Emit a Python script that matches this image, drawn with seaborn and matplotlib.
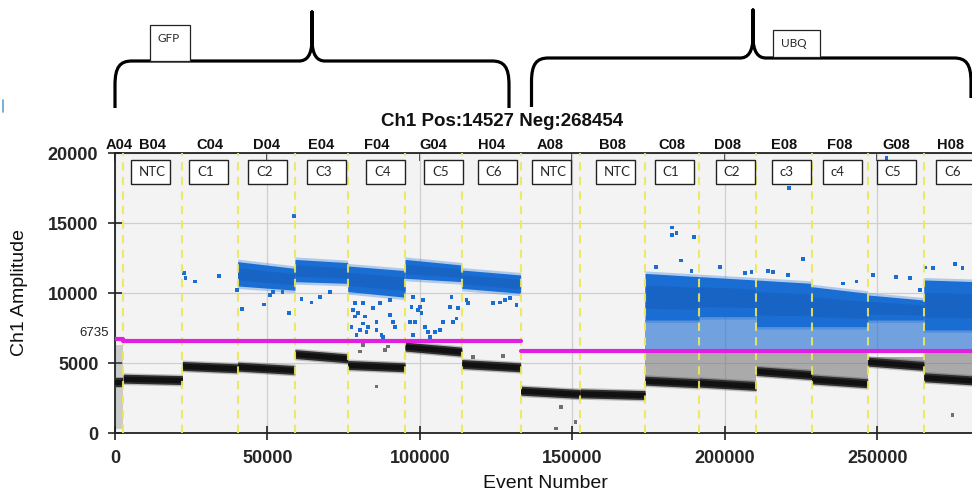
import numpy as np
import pandas as pd
import matplotlib.pyplot as plt
from matplotlib.patches import Rectangle, PathPatch
from matplotlib.path import Path
from matplotlib.transforms import blended_transform_factory
import seaborn as sns

nan = np.nan

# wells along the event axis
wells = ["A04", "B04", "C04", "D04", "E04", "F04", "G04", "H04",
         "A08", "B08", "C08", "D08", "E08", "F08", "G08", "H08"]
well_start = [0, 2700, 22100, 40200, 59000, 76300, 95100, 113700,
              133000, 152500, 173800, 191500, 210200, 228400, 246800, 265200]
well_end = [2700, 22100, 40200, 59000, 76300, 95100, 113700, 133000,
            152500, 173800, 191500, 210200, 228400, 246800, 265200, 282400]

# negative droplet band, amplitude at the left / right edge of each well
neg_left = [3600, 3880, 4790, 4740, 5640, 4860, 6170, 4930,
            3020, 2830, 3740, 3600, 4430, 3830, 5100, 3980]
neg_right = [3600, 3780, 4620, 4500, 5330, 4690, 5810, 4690,
             2790, 2710, 3550, 3360, 4140, 3550, 4790, 3740]

# dense positive cloud
pos_top_left = [nan, nan, nan, 12240, 12400, 11930, 12400, 11640,
                nan, nan, 11400, 11170, 10930, 10450, 9860, 10930]
pos_top_right = [nan, nan, nan, 11760, 12170, 11600, 12000, 11290,
                 nan, nan, 11170, 10930, 10690, 9980, 9500, 10810]
pos_bot_left = [nan, nan, nan, 10500, 10810, 10100, 11050, 10330,
                nan, nan, 8070, 8310, 7600, 7600, 8070, 7360]
pos_bot_right = [nan, nan, nan, 10200, 10690, 9700, 10810, 9980,
                 nan, nan, 8070, 8310, 7600, 7600, 8070, 7360]

# rain between the clusters
rain_blue_low = [nan, nan, nan, nan, nan, nan, nan, nan,
                 nan, nan, 5950, 5950, 5950, 5950, 5950, 5950]
rain_gray_low = [300, nan, nan, nan, nan, nan, nan, nan,
                 nan, nan, 3700, 3500, 4300, 3700, 4950, 3850]
rain_gray_top = [6300, nan, nan, nan, nan, nan, nan, nan,
                 nan, nan, 5700, 5700, 5700, 5700, 5450, 5700]

# single positive droplets outside the clusters
pos_event = [22732, 23169, 26230, 34098,
             40109, 41749, 48962, 50820, 51913, 54973, 57158,
             58689, 61202, 64481, 67213, 70492,
             77596, 78142, 78689, 78689, 79235, 79781, 80328, 81421, 81421, 81967,
             82514, 83060, 84699, 85792, 85792, 86885, 87432, 87978, 90164, 90164,
             91257, 91803,
             96721, 97268, 97814, 97814, 98361, 99454, 100000, 100546, 101093, 101639,
             102732, 103279, 104918, 106557, 107650, 109836, 110383, 110929, 112022, 112568,
             115301, 115847, 124044, 126230, 127869, 129508, 131694,
             182732, 184126, 182732, 189945, 185574, 177377, 189071, 198361, 206557,
             208743, 214208, 215847, 221093, 220765, 225683, 238798, 243169, 248634,
             253005, 256066, 260656, 263934, 265792, 268306, 275410, 277923]
pos_amp = [11405, 11048, 10810, 11214,
           10214, 8857, 9190, 9857, 10095, 10095, 8548,
           15500, 9548, 9310, 9738, 10095,
           7595, 8786, 9262, 8310, 7000, 8548, 7357, 9262, 7833, 8310,
           7238, 7595, 8905, 7952, 7357, 9262, 7000, 6881, 9500, 8429,
           7952, 7595,
           7952, 9024, 9738, 7000, 7952, 8786, 9024, 8548, 9500, 7595,
           7238, 6881, 7238, 7357, 7952, 9024, 9738, 7952, 8190, 8905,
           9500, 9262, 9262, 9333, 9500, 9619, 9143,
           14690, 14262, 14143, 14000, 12310, 11881, 11571, 11881, 11452,
           11524, 11595, 11524, 17524, 11286, 12405, 10690, 10810, 11286,
           19619, 11119, 11048, 10214, 11810, 11762, 12048, 11762]
# single negative droplets outside the bands
neg_event = [85792, 80328, 81421, 88525, 89617, 117486, 127322,
             146230, 144590, 151038, 274645]
neg_amp = [3310, 5810, 6286, 5929, 6167, 5452, 5500,
           1881, 310, 786, 1286]

# thresholds
thr_start = [0, 2700, 133000]
thr_end = [2700, 133000, 282400]
thr_value = [6735, 6600, 5860]

# sample name boxes
sample_names = ["NTC", "C1", "C2", "C3", "C4", "C5", "C6",
                "NTC", "NTC", "C1", "C2", "c3", "c4", "C5", "C6"]
sample_left = [5250, 24300, 43600, 63000, 82300, 101300, 119000,
               136700, 157700, 177000, 197000, 215400, 232100, 249800, 269200]

BLUE = "#1a6dd2"
BLUE_DARK = "#1764c4"
GRAY = "#6f6f6f"
BLACK = "#111111"
MAGENTA = "#e21ee0"
YELLOW = "#eee75a"

sns.set_style("ticks")
plt.rcParams["font.family"] = ["Liberation Sans", "DejaVu Sans"]

W, H = 972, 495
fig = plt.figure(figsize=(W / 100, H / 100), dpi=100)
fig.patch.set_facecolor("white")

# overlay in pixel units for the group braces
over = fig.add_axes([0, 0, 1, 1], zorder=0)
over.set_xlim(0, W)
over.set_ylim(H, 0)
over.axis("off")
over.patch.set_alpha(0)

ax = fig.add_axes([115 / W, (H - 433) / H, (W - 115) / W, 280 / H], zorder=1)
ax.set_facecolor("#f3f3f3")

for i in range(len(wells)):
    x = [well_start[i], well_end[i]]
    if not np.isnan(rain_gray_low[i]):
        ax.fill_between(x, rain_gray_low[i], rain_gray_top[i], color=GRAY,
                        alpha=0.3 if i == 0 else 0.55, lw=0, zorder=2)
    if not np.isnan(rain_blue_low[i]):
        ax.fill_between(x, rain_blue_low[i], pos_bot_left[i], color=BLUE,
                        alpha=0.6, lw=0, zorder=2)
    if not np.isnan(pos_top_left[i]):
        top = np.array([pos_top_left[i], pos_top_right[i]])
        bot = np.array([pos_bot_left[i], pos_bot_right[i]])
        ax.fill_between(x, bot - 180, top + 180, color=BLUE, alpha=0.3, lw=0, zorder=3)
        ax.fill_between(x, bot, top, color=BLUE, lw=0, zorder=3)
        ax.fill_between(x, bot + 0.25 * (top - bot), top - 0.25 * (top - bot),
                        color=BLUE_DARK, lw=0, zorder=3)
    neg = np.array([neg_left[i], neg_right[i]])
    ax.fill_between(x, neg - 420, neg + 420, color="#555555", alpha=0.35, lw=0, zorder=4)
    ax.fill_between(x, neg - 320, neg + 320, color="#2e2e2e", lw=0, zorder=4)
    ax.fill_between(x, neg - 190, neg + 190, color=BLACK, lw=0, zorder=4)

outliers = pd.DataFrame({
    "event": pos_event + neg_event,
    "amp": pos_amp + neg_amp,
    "kind": ["pos"] * len(pos_event) + ["neg"] * len(neg_event),
})
sns.scatterplot(data=outliers, x="event", y="amp", hue="kind",
                palette={"pos": BLUE, "neg": GRAY}, marker="s", s=7,
                linewidth=0, legend=False, ax=ax, zorder=5)

thr = pd.DataFrame({
    "event": thr_start + thr_end,
    "amp": thr_value + thr_value,
    "seg": [0, 1, 2, 0, 1, 2],
})
sns.lineplot(data=thr, x="event", y="amp", units="seg", estimator=None,
             color=MAGENTA, lw=3, ax=ax, zorder=7)

for xs in well_start[1:]:
    ax.axvline(xs, color=YELLOW, lw=1.5, ls=(0, (4, 3)), alpha=0.9, zorder=6)

ax.set_xlim(0, 281000)
ax.set_ylim(0, 20000)
ax.set_xticks([0, 50000, 100000, 150000, 200000, 250000])
ax.set_yticks([0, 5000, 10000, 15000, 20000])
ax.grid(True, color="#cfcfcf", lw=0.9, zorder=1)
ax.set_axisbelow(True)
ax.tick_params(direction="inout", length=10, width=1.2, color="#222222",
               labelsize=13, pad=7)
for lab in ax.get_xticklabels() + ax.get_yticklabels():
    lab.set_fontweight("bold")
for side in ["left", "bottom", "top"]:
    ax.spines[side].set_color("#222222")
    ax.spines[side].set_linewidth(1.3)
ax.spines["right"].set_visible(False)
ax.set_xlabel("")
ax.set_ylabel("")

top_ax = ax.secondary_xaxis("top")
top_ax.set_xticks([0, 50000, 100000, 150000, 200000, 250000])
top_ax.tick_params(direction="in", length=6, width=1.2, color="#222222", labeltop=False)
top_ax.spines["top"].set_visible(False)

trans = blended_transform_factory(ax.transData, ax.transAxes)
for i, name in enumerate(wells):
    xc = (well_start[i] + well_end[i]) / 2
    if i == 0:
        xc = 1500
    ax.text(xc, 1.029, name, transform=trans, ha="center", va="center",
            fontsize=10.5, fontweight="bold", color="#111111", clip_on=False)

for name, x0 in zip(sample_names, sample_left):
    ax.add_patch(Rectangle((x0, 17780), 12800, 1720, facecolor="white",
                           edgecolor="#222222", lw=1.0, zorder=8))
    ax.text(x0 + 2600, 18640, name, ha="left", va="center", fontsize=9.5,
            family=["Lato", "DejaVu Sans"], zorder=9)

ax.text(-0.007, 6735, "6735", transform=blended_transform_factory(ax.transAxes, ax.transData),
        ha="right", va="bottom", fontsize=9.5, color="#222222", clip_on=False)

fig.text(502 / W, 1 - 121 / H, "Ch1 Pos:14527 Neg:268454", ha="center", va="center",
         fontsize=13.5, fontweight="bold", color="#111111")
fig.text(545 / W, 1 - 483 / H, "Event Number", ha="center", va="center",
         fontsize=14, color="#111111")
fig.text(19 / W, 1 - 292 / H, "Ch1 Amplitude", ha="center", va="center",
         rotation=90, fontsize=14, color="#111111")


# group braces
def brace(x0, x1, xp, yh, yp, yb0, yb1):
    verts = [(x0, yb0), (x0, yh + 24), (x0, yh + 6), (x0 + 5, yh), (x0 + 17, yh),
             (xp - 13, yh), (xp - 5, yh), (xp, yh - 6), (xp, yh - 22),
             (xp, yp),
             (xp, yh - 22), (xp, yh - 6), (xp + 5, yh), (xp + 13, yh),
             (x1 - 17, yh), (x1 - 5, yh), (x1, yh + 6), (x1, yh + 24), (x1, yb1)]
    codes = [Path.MOVETO, Path.LINETO, Path.CURVE4, Path.CURVE4, Path.CURVE4,
             Path.LINETO, Path.CURVE4, Path.CURVE4, Path.CURVE4,
             Path.LINETO,
             Path.LINETO, Path.CURVE4, Path.CURVE4, Path.CURVE4,
             Path.LINETO, Path.CURVE4, Path.CURVE4, Path.CURVE4, Path.LINETO]
    over.add_patch(PathPatch(Path(verts, codes), facecolor="none", edgecolor="black",
                             lw=2.3, capstyle="butt", joinstyle="round"))


brace(115, 509, 312, 61, 12, 108, 108)
brace(531.5, 971, 753, 58, 10, 107, 98)

over.add_patch(Rectangle((150, 25), 40, 36, facecolor="white", edgecolor="#222222", lw=0.9))
over.text(169, 38, "GFP", ha="center", va="center", fontsize=8.5, family=["Lato", "DejaVu Sans"])
over.add_patch(Rectangle((773, 30), 47, 27, facecolor="white", edgecolor="#222222", lw=0.9))
over.text(794, 43.5, "UBQ", ha="center", va="center", fontsize=8.5, family=["Lato", "DejaVu Sans"])
over.plot([3, 3], [100, 112], color="#5ea3d6", lw=1.2)

fig.savefig("out.png", dpi=100, facecolor="white")
